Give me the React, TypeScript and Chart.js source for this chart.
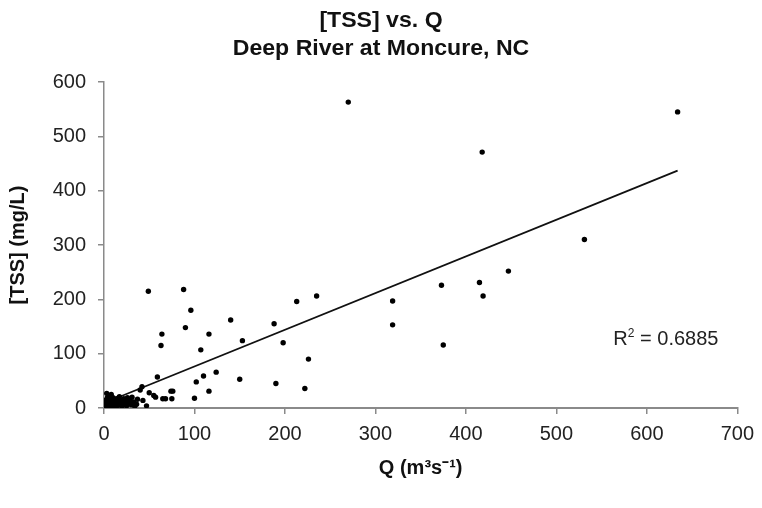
import React, { useEffect, useRef } from "react";
import { Chart, registerables } from "chart.js";

Chart.register(...registerables);

// ---------- data ----------
const TITLE_LINES = ["[TSS] vs. Q", "Deep River at Moncure, NC"];
const X_TITLE = "Q (m³s⁻¹)";
const Y_TITLE = "[TSS] (mg/L)";

const X_MIN = 0;
const X_MAX = 700;
const X_STEP = 100;
const Y_MIN = 0;
const Y_MAX = 600;
const Y_STEP = 100;

// discharge Q (m3/s)
const Q_VALUES = [
  270, 634, 418, 531, 447, 415, 419, 373, 319, 319, 375,
  235, 213, 188, 198, 226, 190, 222,
  49, 88, 96, 140, 64, 90, 116, 63, 153, 107, 124, 110, 102, 150, 59,
  116, 74, 76, 100, 75, 65, 68, 50, 55, 57, 42, 40, 43, 47, 36,
  1, 2, 2, 3, 4, 4, 5, 6, 6, 7, 8, 8, 9, 10, 10, 11, 12, 13, 13, 14,
  15, 16, 17, 18, 19, 20, 21, 22, 23, 24, 25, 26, 27, 29, 30, 31, 33, 34, 37,
];
// total suspended solids (mg/L)
const TSS_VALUES = [
  563, 545, 471, 310, 252, 231, 206, 226, 197, 153, 116,
  206, 196, 155, 120, 90, 45, 36,
  215, 218, 180, 162, 136, 148, 136, 115, 124, 107, 66, 59, 48, 53, 57,
  31, 31, 31, 18, 17, 17, 17, 28, 23, 20, 39, 33, 14, 4, 7,
  3, 8, 15, 27, 5, 20, 11, 2, 17, 8, 25, 13, 4, 10, 19, 6, 14, 2, 9, 17,
  11, 5, 21, 8, 14, 3, 11, 17, 7, 13, 4, 19, 9, 14, 6, 20, 11, 3, 16,
];

// linear trend line
const TREND_SLOPE = 0.675;
const TREND_INTERCEPT = 9;
const R2_VALUE = "0.6885";

// ---------- style / layout ----------
const FONT = "'Liberation Sans', Arial, Helvetica, sans-serif";
const AXIS_GRAY = "#8a8a8a";
const R2_POS_Q = 563;
const R2_POS_T = 116;

const annotPlugin = {
  id: "annot",
  afterDraw(chart: any) {
    const ctx = chart.ctx;
    ctx.save();
    ctx.fillStyle = "#111";
    ctx.textAlign = "center";
    ctx.textBaseline = "middle";
    ctx.font = `bold 22px ${FONT}`;
    const cx = chart.width / 2;
    ctx.save();
    ctx.translate(cx, 0);
    ctx.scale(1.05, 1);
    ctx.fillText(TITLE_LINES[0], 0, 21);
    ctx.fillText(TITLE_LINES[1], 0, 49);
    ctx.restore();

    const xs = chart.scales.x;
    const ys = chart.scales.y;
    const x0 = xs.getPixelForValue(R2_POS_Q);
    const y0 = ys.getPixelForValue(R2_POS_T);
    ctx.textAlign = "left";
    ctx.textBaseline = "alphabetic";
    ctx.fillStyle = "#222";
    ctx.font = `20px ${FONT}`;
    ctx.fillText("R", x0, y0);
    let w = ctx.measureText("R").width;
    ctx.font = `12px ${FONT}`;
    ctx.fillText("2", x0 + w, y0 - 8);
    w += ctx.measureText("2").width;
    ctx.font = `20px ${FONT}`;
    ctx.fillText(" = " + R2_VALUE, x0 + w, y0);
    ctx.restore();
  },
};

export default function App() {
  const ref = useRef<HTMLCanvasElement | null>(null);

  useEffect(() => {
    if (!ref.current) return;
    const points = Q_VALUES.map((q, i) => ({ x: q, y: TSS_VALUES[i] }));
    const qMin = Math.min(...Q_VALUES);
    const qMax = Math.max(...Q_VALUES);
    const trend = [
      { x: qMin, y: TREND_SLOPE * qMin + TREND_INTERCEPT },
      { x: qMax, y: TREND_SLOPE * qMax + TREND_INTERCEPT },
    ];

    const chart = new Chart(ref.current, {
      type: "scatter",
      data: {
        datasets: [
          {
            label: "TSS",
            data: points,
            pointRadius: 2.7,
            pointStyle: "circle",
            backgroundColor: "#000",
            borderColor: "#000",
            borderWidth: 0,
            showLine: false,
          },
          {
            label: "trend",
            data: trend,
            showLine: true,
            pointRadius: 0,
            borderColor: "#111",
            borderWidth: 1.8,
            fill: false,
          },
        ],
      },
      options: {
        animation: false,
        responsive: false,
        layout: { padding: { top: 82, right: 24, left: 0, bottom: 0 } },
        plugins: {
          legend: { display: false },
          tooltip: { enabled: false },
          title: { display: false },
        },
        scales: {
          x: {
            type: "linear",
            min: X_MIN,
            max: X_MAX,
            ticks: {
              stepSize: X_STEP,
              color: "#222",
              font: { family: FONT, size: 20 },
              padding: 8,
              maxRotation: 0,
            },
            grid: {
              display: true,
              drawOnChartArea: false,
              drawTicks: true,
              tickLength: 6,
              color: AXIS_GRAY,
              lineWidth: 1.5,
            },
            border: { display: true, color: AXIS_GRAY, width: 2 },
            title: {
              display: true,
              text: X_TITLE,
              color: "#111",
              font: { family: FONT, size: 20, weight: "bold" },
              padding: { top: 0, bottom: 28 },
            },
            afterFit: (s: any) => {
              s.height = 100;
            },
          },
          y: {
            type: "linear",
            min: Y_MIN,
            max: Y_MAX,
            ticks: {
              stepSize: Y_STEP,
              color: "#222",
              font: { family: FONT, size: 20 },
              padding: 12,
            },
            grid: {
              display: true,
              drawOnChartArea: false,
              drawTicks: true,
              tickLength: 6,
              color: AXIS_GRAY,
              lineWidth: 1.5,
            },
            border: { display: true, color: AXIS_GRAY, width: 1.5 },
            title: {
              display: true,
              text: Y_TITLE,
              color: "#111",
              font: { family: FONT, size: 20, weight: "bold" },
              padding: { top: 6, bottom: 0 },
            },
            afterFit: (s: any) => {
              s.width = 104;
            },
          },
        },
      },
      plugins: [annotPlugin],
    } as any);

    return () => chart.destroy();
  }, []);

  return (
    <div style={{ position: "absolute", left: 0, top: 0, width: 762, height: 508, background: "#fff" }}>
      <canvas ref={ref} width={762} height={508} style={{ display: "block" }} />
    </div>
  );
}
